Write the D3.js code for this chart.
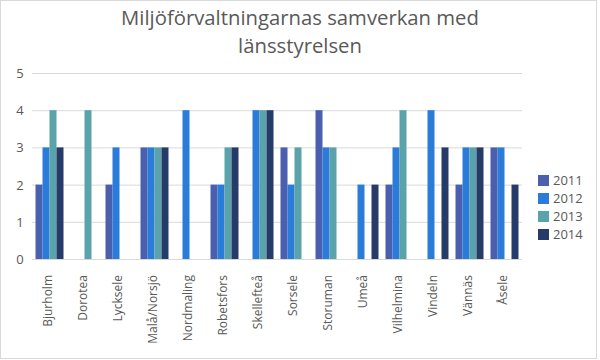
<!DOCTYPE html>
<html><head><meta charset="utf-8">
<script src="https://cdn.jsdelivr.net/npm/d3@7"></script>
<style>body{margin:0;background:#fff}svg{display:block}text{font-family:"Open Sans",sans-serif}</style>
</head><body><svg id="c" width="600" height="360"></svg>
<script>
const categories = ["Bjurholm","Dorotea","Lycksele","Malå/Norsjö","Nordmaling","Robetsfors","Skellefteå","Sorsele","Storuman","Umeå","Vilhelmina","Vindeln","Vännäs","Åsele"];
const years = ["2011","2012","2013","2014"];
const v2011 = [2,0,2,3,0,2,0,3,4,0,2,0,2,3];
const v2012 = [3,0,3,3,4,2,4,2,3,2,3,4,3,3];
const v2013 = [4,4,0,3,0,3,4,3,3,0,4,0,3,0];
const v2014 = [3,0,0,3,0,3,4,0,0,2,0,3,3,2];
const yTicks = [0,1,2,3,4,5];
const colors = ["#4a5fae","#2b7bd9","#5aa3ab","#263b67"];
const series = [v2011,v2012,v2013,v2014];

const svg = d3.select("#c");
svg.append("rect").attr("x",0.5).attr("y",0.5).attr("width",596).attr("height",358).attr("fill","#fff").attr("stroke","#d9d9d9");

const title = svg.append("text").attr("text-anchor","middle").attr("fill","#595959").attr("font-size",20.3);
title.append("tspan").attr("x",300).attr("y",25).text("Miljöförvaltningarnas samverkan med");
title.append("tspan").attr("x",300).attr("y",53).text("länsstyrelsen");

const m = {l:32, r:522, t:73, b:259};
const x = d3.scaleBand().domain(categories).range([m.l,m.r]).paddingInner(0.2).paddingOuter(0.1);
const x1 = d3.scaleBand().domain(years).range([0,x.bandwidth()]);
const y = d3.scaleLinear().domain([0,5]).range([m.b,m.t]);

svg.append("g").selectAll("line").data(yTicks).join("line")
  .attr("x1",m.l).attr("x2",m.r).attr("y1",d=>y(d)+0.5).attr("y2",d=>y(d)+0.5)
  .attr("stroke","#d9d9d9");
svg.append("g").selectAll("text").data(yTicks).join("text")
  .attr("x",20).attr("y",d=>y(d)+5).attr("text-anchor","middle").attr("font-size",13).attr("fill","#595959").text(d=>d);

const g = svg.append("g");
series.forEach((s,si)=>{
  g.append("g").selectAll("rect").data(s).join("rect")
    .attr("x",(d,i)=>x(categories[i])+x1(years[si]))
    .attr("width",x1.bandwidth())
    .attr("y",d=>y(d)).attr("height",d=>y(0)-y(d))
    .attr("fill",colors[si]);
});

svg.append("g").selectAll("text").data(categories).join("text")
  .attr("transform",d=>`translate(${x(d)+x.bandwidth()/2+2},275) rotate(-90)`)
  .attr("text-anchor","end").attr("font-size",12).attr("fill","#595959").text(d=>d);

const lg = svg.append("g");
years.forEach((yr,i)=>{
  lg.append("rect").attr("x",538).attr("y",175+i*18).attr("width",11).attr("height",11).attr("fill",colors[i]);
  lg.append("text").attr("x",553).attr("y",185+i*18).attr("font-size",13).attr("fill","#595959").text(yr);
});
</script></body></html>
